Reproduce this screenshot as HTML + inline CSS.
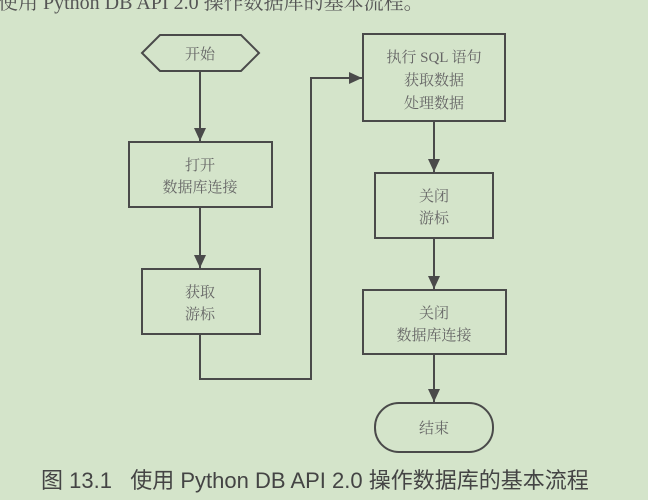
<!DOCTYPE html>
<html><head><meta charset="utf-8"><style>
body{margin:0;width:648px;height:500px;background:#d4e4ca;overflow:hidden;position:relative;font-family:"Liberation Serif","Noto Serif CJK SC",serif}
svg{position:absolute;left:0;top:0}
.t{font-family:"Liberation Serif","Noto Serif CJK SC",serif;font-size:15px;fill:#666}
.cap{position:absolute;left:41px;top:463px;font-family:"Liberation Sans","Noto Sans CJK SC",sans-serif;font-size:22px;color:#444;white-space:nowrap}
.top{position:absolute;left:-2px;top:-14px;font-family:"Liberation Serif","Noto Serif CJK SC",serif;font-size:20px;color:#555;white-space:nowrap}
</style></head><body>
<div class="top">使用 Python DB API 2.0 操作数据库的基本流程。</div>
<svg width="648" height="500" viewBox="0 0 648 500">
<defs>
<marker id="b" markerWidth="14" markerHeight="14" refX="13" refY="6" orient="auto" markerUnits="userSpaceOnUse"><path d="M0,0 L13,6 L0,12 z" fill="#4a4a4a"/></marker></defs>
<g stroke="#4a4a4a" stroke-width="2" fill="none">
<polygon points="142,53 160,35 241,35 259,53 241,71 160,71"/>
<rect x="129" y="142" width="143" height="65"/>
<rect x="142" y="269" width="118" height="65"/>
<rect x="363" y="34" width="142" height="87"/>
<rect x="375" y="173" width="118" height="65"/>
<rect x="363" y="290" width="143" height="64"/>
<rect x="375" y="403" width="118" height="49" rx="24"/>
<line x1="200" y1="71" x2="200" y2="141" marker-end="url(#b)"/>
<line x1="200" y1="207" x2="200" y2="268" marker-end="url(#b)"/>
<polyline points="200,334 200,379 311,379 311,78 362,78" marker-end="url(#b)"/>
<line x1="434" y1="121" x2="434" y2="172" marker-end="url(#b)"/>
<line x1="434" y1="238" x2="434" y2="289" marker-end="url(#b)"/>
<line x1="434" y1="354" x2="434" y2="402" marker-end="url(#b)"/>
</g>
<g class="t" text-anchor="middle">
<text x="200" y="59">开始</text>
<text x="200" y="170">打开</text>
<text x="200" y="192">数据库连接</text>
<text x="200" y="297">获取</text>
<text x="200" y="319">游标</text>
<text x="434" y="62">执行 SQL 语句</text>
<text x="434" y="85">获取数据</text>
<text x="434" y="108">处理数据</text>
<text x="434" y="201">关闭</text>
<text x="434" y="223">游标</text>
<text x="434" y="318">关闭</text>
<text x="434" y="340">数据库连接</text>
<text x="434" y="433">结束</text>
</g>
</svg>
<div class="cap">图 13.1&nbsp;&nbsp;&nbsp;使用 Python DB API 2.0 操作数据库的基本流程</div>
</body></html>
